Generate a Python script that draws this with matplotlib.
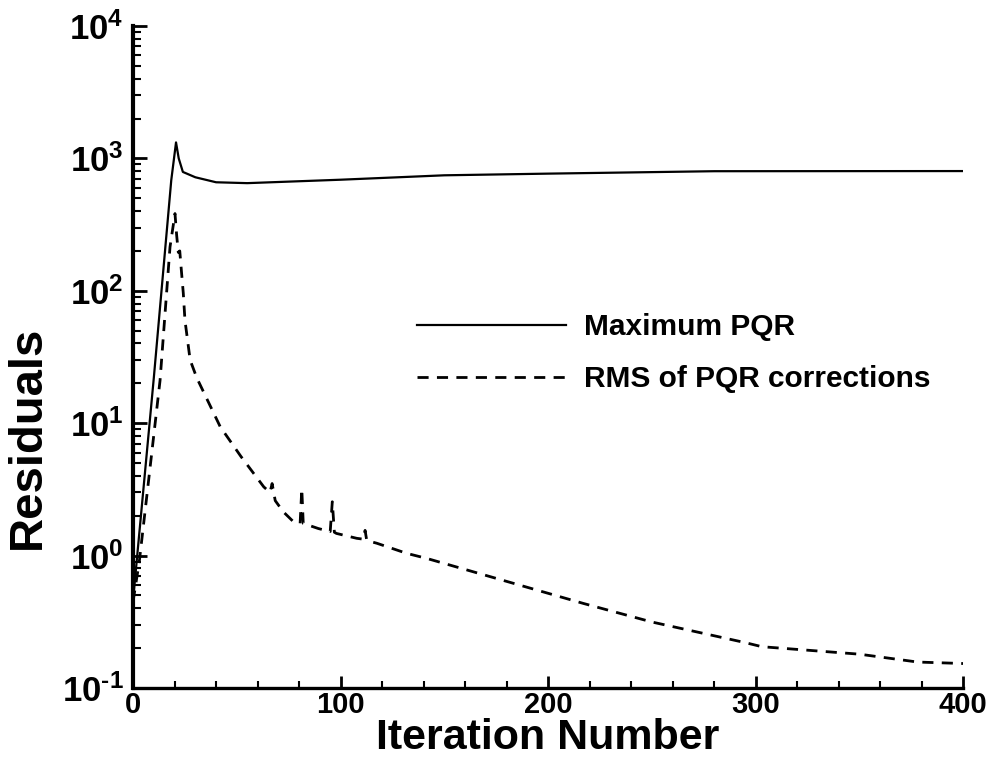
import math
import matplotlib
matplotlib.use("Agg")
import matplotlib.pyplot as plt
from matplotlib.ticker import FixedLocator, MultipleLocator, FuncFormatter, LogLocator, NullFormatter

plt.rcParams['font.family'] = ['Liberation Sans', 'DejaVu Sans']
plt.rcParams['font.weight'] = 'bold'
plt.rcParams['mathtext.fontset'] = 'custom'
plt.rcParams['mathtext.rm'] = 'Liberation Sans:bold'
plt.rcParams['mathtext.bf'] = 'Liberation Sans:bold'
plt.rcParams['axes.unicode_minus'] = False

# Maximum PQR (solid)
max_iter = [0, 2, 10, 18.4, 20.7, 22, 24, 30, 40, 55, 100, 150, 200, 280, 400]
max_pqr = [0.46, 1.0, 22, 683, 1320, 1000, 790, 720, 660, 650, 690, 745, 767, 800, 802]

# RMS of PQR corrections (dashed)
rms_iter = [0, 3, 13, 17.8, 20.2, 21, 21.8, 22.5, 23.4, 24.2, 25, 27.5, 30.7, 42, 52, 63,
            66, 67, 68.5, 72.4, 77.3, 80.5, 81.3, 82, 89.3, 95, 96, 97, 98, 107.8, 111,
            111.8, 112.6, 117.4, 131.8, 141.7, 217, 250, 295, 303, 350, 378, 400]
rms_pqr = [0.45, 0.9, 21, 214, 383, 263, 195, 200, 135, 96, 60, 30, 22, 9.4, 5.6, 3.3,
           3.0, 3.5, 2.6, 2.14, 1.8, 1.75, 3.2, 1.75, 1.6, 1.52, 2.55, 1.5, 1.47, 1.35, 1.33,
           1.55, 1.3, 1.24, 1.04, 0.95, 0.435, 0.315, 0.22, 0.205, 0.18, 0.157, 0.153]


def decade_label(v, pos):
    e = round(math.log10(v))
    if e < 0:
        return r'$\mathbf{10^{\text{-}%d}}$' % (-e)
    return r'$\mathbf{10^{%d}}$' % e


fig = plt.figure(figsize=(9.93, 7.64), dpi=100)
ax = fig.add_axes([0.134, 0.0995, 0.836, 0.8665])

ax.plot(max_iter, max_pqr, color='black', lw=1.6, label='Maximum PQR')
ax.plot(rms_iter, rms_pqr, color='black', lw=2.0, dashes=(4, 3), label='RMS of PQR corrections')

ax.set_yscale('log')
ax.set_xlim(0, 400)
ax.set_ylim(0.1, 1e4)

ax.spines['top'].set_visible(False)
ax.spines['right'].set_visible(False)
ax.spines['left'].set_linewidth(3.0)
ax.spines['bottom'].set_linewidth(2.4)

ax.xaxis.set_major_locator(MultipleLocator(100))
ax.xaxis.set_minor_locator(MultipleLocator(20))
ax.yaxis.set_major_locator(FixedLocator([0.1, 1, 10, 100, 1000, 10000]))
ax.yaxis.set_minor_locator(LogLocator(base=10, subs=range(2, 10)))
ax.yaxis.set_minor_formatter(NullFormatter())
ax.yaxis.set_major_formatter(FuncFormatter(decade_label))

ax.tick_params(which='both', direction='in', top=False, right=False, color='black')
ax.tick_params(axis='y', which='major', length=10, width=2, labelsize=25, pad=7)
ax.tick_params(axis='y', which='minor', length=6, width=1.5)
ax.tick_params(axis='x', which='major', length=9, width=2, labelsize=21, pad=2)
ax.tick_params(axis='x', which='minor', length=5, width=1.5)
for t in ax.get_xticklabels():
    t.set_fontweight('bold')

ax.set_xlabel('Iteration Number', fontsize=31, fontweight='bold')
ax.set_ylabel('Residuals', fontsize=34, fontweight='bold')
ax.xaxis.set_label_coords(0.5, -0.046)
ax.yaxis.set_label_coords(-0.1, 0.379)

ax.legend(loc='upper left', bbox_to_anchor=(0.342, 0.566), frameon=False,
          handlelength=5.0, handletextpad=0.6, labelspacing=0.8,
          borderpad=0, borderaxespad=0, prop={'weight': 'bold', 'size': 21.5})

fig.savefig('out.png', dpi=100)
